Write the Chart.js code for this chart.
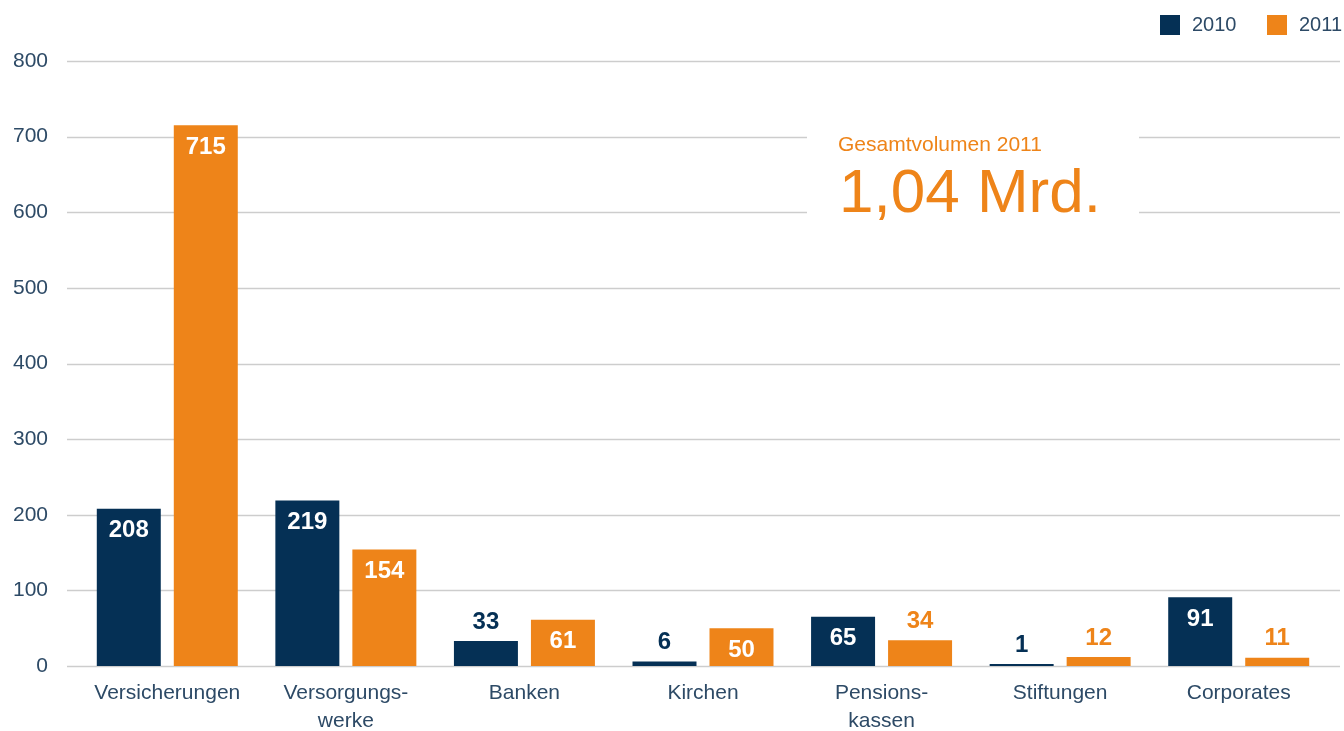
<!DOCTYPE html>
<html>
<head>
<meta charset="utf-8">
<script src="https://cdn.jsdelivr.net/npm/chart.js@4/dist/chart.umd.min.js"></script>
<style>
  html, body { margin: 0; padding: 0; background: #fff; }
  #wrap { width: 1344px; height: 731px; position: relative; }
</style>
</head>
<body>
<div id="wrap"><canvas id="chart"></canvas></div>
<script>
// Anlagevolumen nach Kundengruppe, 2010 vs 2011
const categories = [
  ['Versicherungen'],
  ['Versorgungs-', 'werke'],
  ['Banken'],
  ['Kirchen'],
  ['Pensions-', 'kassen'],
  ['Stiftungen'],
  ['Corporates'],
];
const seriesNames = ['2010', '2011'];
const values2010  = [208, 219, 33, 6, 65, 1, 91];
const values2011  = [715, 154, 61, 50, 34, 12, 11];
const yTicks      = [0, 100, 200, 300, 400, 500, 600, 700, 800];
const noteTitle   = 'Gesamtvolumen 2011';
const noteValue   = '1,04 Mrd.';

const NAVY   = '#053055';
const ORANGE = '#ee8419';
const TEXT   = '#2d4a66';
const GRID   = '#cdcdcd';
const FONT   = '"Liberation Sans", Arial, Helvetica, sans-serif';

// grid lines wider than the plot + white note box over them
const gridPlugin = {
  id: 'gridAndNote',
  beforeDatasetsDraw(chart) {
    const { ctx, chartArea, scales } = chart;
    ctx.save();
    ctx.strokeStyle = GRID;
    ctx.lineWidth = 1.5;
    yTicks.forEach(v => {
      const y = Math.round(scales.y.getPixelForValue(v)) + 0.5;
      ctx.beginPath();
      ctx.moveTo(chartArea.left - 11, y);
      ctx.lineTo(chartArea.right + 12, y);
      ctx.stroke();
    });

    ctx.fillStyle = '#fff';
    ctx.fillRect(807, 100, 332, 140);
    ctx.fillStyle = ORANGE;
    ctx.textAlign = 'left';
    ctx.textBaseline = 'alphabetic';
    ctx.font = `21px ${FONT}`;
    ctx.fillText(noteTitle, 838, 151);
    ctx.font = `62px ${FONT}`;
    ctx.fillText(noteValue, 839, 212);
    ctx.restore();
  },
};

// value labels: white inside tall bars, bar-coloured above short ones
const valuePlugin = {
  id: 'valueLabels',
  afterDatasetsDraw(chart) {
    const { ctx } = chart;
    ctx.save();
    ctx.font = `bold 24px ${FONT}`;
    ctx.textAlign = 'center';
    ctx.textBaseline = 'middle';
    chart.data.datasets.forEach((ds, di) => {
      chart.getDatasetMeta(di).data.forEach((bar, i) => {
        const v = ds.data[i];
        if (v >= 40) {
          ctx.fillStyle = '#fff';
          ctx.fillText(v, bar.x, bar.y + 22);
        } else {
          ctx.fillStyle = ds.backgroundColor;
          ctx.fillText(v, bar.x, bar.y - 19);
        }
      });
    });
    ctx.restore();
  },
};

// legend top right
const legendPlugin = {
  id: 'topLegend',
  afterDraw(chart) {
    const { ctx } = chart;
    ctx.save();
    ctx.font = `20px ${FONT}`;
    ctx.textBaseline = 'middle';
    ctx.textAlign = 'left';
    const xs = [1160, 1267];
    chart.data.datasets.forEach((ds, i) => {
      ctx.fillStyle = ds.backgroundColor;
      ctx.fillRect(xs[i], 15, 20, 20);
      ctx.fillStyle = TEXT;
      ctx.fillText(ds.label, xs[i] + 32, 25);
    });
    ctx.restore();
  },
};

new Chart(document.getElementById('chart'), {
  type: 'bar',
  data: {
    labels: categories,
    datasets: [
      { label: seriesNames[0], data: values2010, backgroundColor: NAVY },
      { label: seriesNames[1], data: values2011, backgroundColor: ORANGE },
    ],
  },
  options: {
    responsive: true,
    maintainAspectRatio: false,
    animation: false,
    events: [],
    layout: { padding: { top: 61, right: 16, left: 0, bottom: 0 } },
    datasets: {
      bar: { barPercentage: 0.831, categoryPercentage: 0.8624, minBarLength: 2 },
    },
    plugins: {
      legend: { display: false },
      tooltip: { enabled: false },
    },
    scales: {
      x: {
        grid: { display: false, drawTicks: false },
        border: { display: false },
        ticks: {
          color: TEXT,
          font: { family: FONT, size: 21, lineHeight: 1.3 },
          padding: 14,
          maxRotation: 0,
          autoSkip: false,
        },
        afterFit(scale) { scale.height = 65; },
      },
      y: {
        min: 0,
        max: 800,
        grid: { display: false, drawTicks: false },
        border: { display: false },
        ticks: {
          stepSize: 100,
          color: TEXT,
          font: { family: FONT, size: 21 },
          padding: 30,
        },
        afterFit(scale) { scale.width = 78; },
      },
    },
  },
  plugins: [gridPlugin, valuePlugin, legendPlugin],
});
</script>
</body>
</html>
